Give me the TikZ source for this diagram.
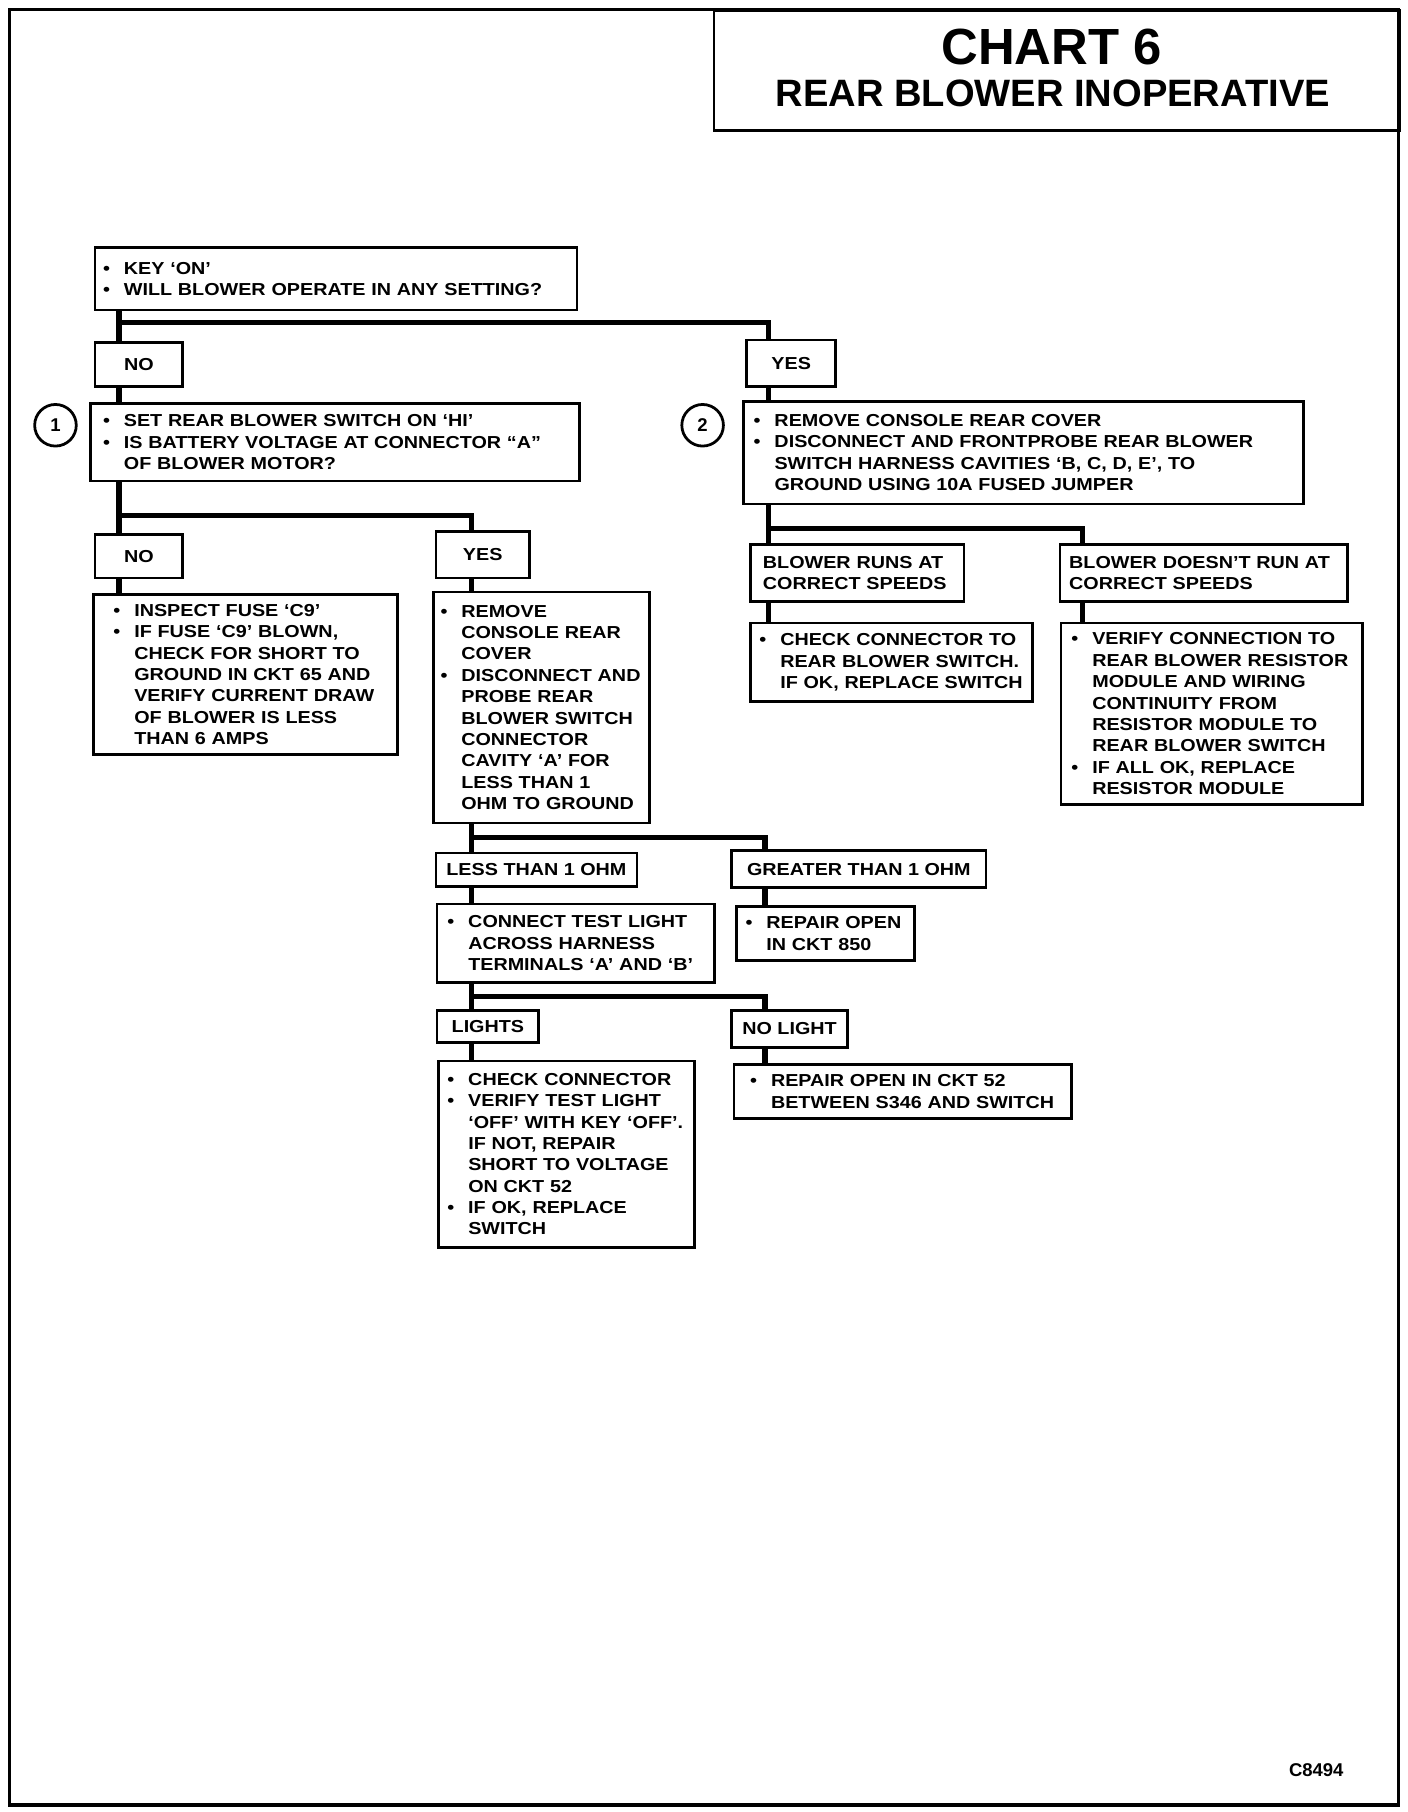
\documentclass[tikz,border=0pt]{standalone}
\usepackage{fontspec}
\newfontfamily\chartfont[FakeStretch=1.14]{Liberation Sans}
\newfontfamily\headfont{Liberation Sans}
\usetikzlibrary{positioning}

\newcommand{\bul}{\makebox[9pt][l]{\textbullet}}
\newcommand{\ind}{\hspace*{9pt}}

\begin{document}
\begin{tikzpicture}[
        x=0.5pt, y=-0.5pt,
        box/.style={draw, line width=1.2pt, anchor=north west, align=left, inner ysep=0pt,
                    font=\chartfont\bfseries\fontsize{7.5}{9.25}\selectfont},
        tag/.style={draw, line width=1.2pt, anchor=north west, align=center, inner sep=0pt,
                    font=\chartfont\bfseries\fontsize{7.5}{9.25}\selectfont},
        link/.style={line width=2.2pt},
        num/.style={draw, circle, line width=1.2pt, minimum size=18pt, inner sep=0pt,
                    font=\headfont\bfseries\fontsize{8}{8}\selectfont}
    ]
    \useasboundingbox (0,0) rectangle (1218,1568);

    % Frame and title
    \draw[line width=1.5pt] (8,8) rectangle (1210,1562);
    \node[draw, line width=1pt, anchor=north west, minimum width=296.5pt, minimum height=52pt, inner sep=0pt] (titlebox) at (617,8) {};
    \node[inner sep=0pt, font=\headfont\bfseries\fontsize{22}{24}\selectfont] (chart) at (910,41) {CHART 6};
    \node[inner sep=0pt, font=\headfont\bfseries\fontsize{16.5}{18}\selectfont] (subject) at (911,80.5) {REAR BLOWER INOPERATIVE};

    % Buses
    \coordinate (busA) at (103,0);
    \coordinate (busB) at (665,0);
    \coordinate (busC) at (408,0);
    \coordinate (busD) at (662,0);
    \coordinate (busE) at (937,0);

    % Nodes - start
    \node[box, inner xsep=3.5pt, text width=201.5pt, minimum height=27pt] (key) at (81,213)
        {\bul KEY ‘ON’\\ \bul WILL BLOWER OPERATE IN ANY SETTING?};
    \node[tag, minimum width=38pt, minimum height=19pt] (noA) at (81,295) {NO};
    \node[tag, minimum width=38.5pt, minimum height=20pt] (yesA) at (645,293) {YES};

    % Nodes - left branch
    \node[num] (stepA) at (48,368) {1};
    \node[box, inner xsep=5.5pt, text width=200.5pt, minimum height=33.5pt] (hiset) at (77,348)
        {\bul SET REAR BLOWER SWITCH ON ‘HI’\\ \bul IS BATTERY VOLTAGE AT CONNECTOR “A”\\ \ind OF BLOWER MOTOR?};
    \node[tag, minimum width=38pt, minimum height=19pt] (noB) at (81,461) {NO};
    \node[tag, minimum width=40.5pt, minimum height=20pt] (yesB) at (376,459) {YES};
    \node[box, inner xsep=8.5pt, text width=114.5pt, minimum height=69.5pt] (fuse) at (80,513)
        {\bul INSPECT FUSE ‘C9’\\ \bul IF FUSE ‘C9’ BLOWN,\\ \ind CHECK FOR SHORT TO\\ \ind GROUND IN CKT 65 AND\\
         \ind VERIFY CURRENT DRAW\\ \ind OF BLOWER IS LESS\\ \ind THAN 6 AMPS};
    \node[box, inner xsep=3pt, text width=87.5pt, minimum height=100pt] (probe) at (374,511)
        {\bul REMOVE\\ \ind CONSOLE REAR\\ \ind COVER\\ \bul DISCONNECT~AND\\ \ind PROBE REAR\\ \ind BLOWER SWITCH\\
         \ind CONNECTOR\\ \ind CAVITY ‘A’ FOR\\ \ind LESS THAN 1\\ \ind OHM TO GROUND};
    \node[tag, minimum width=87pt, minimum height=14.5pt] (less) at (376,737) {LESS THAN 1 OHM};
    \node[tag, minimum width=110pt, minimum height=16pt] (greater) at (632,735) {GREATER THAN 1 OHM};
    \node[box, inner xsep=4.5pt, text width=111pt, minimum height=34pt] (test) at (377,781)
        {\bul CONNECT TEST LIGHT\\ \ind ACROSS HARNESS\\ \ind TERMINALS ‘A’ AND ‘B’};
    \node[box, inner xsep=4pt, text width=69pt, minimum height=23.5pt] (openA) at (636,783)
        {\bul REPAIR~OPEN\\ \ind IN CKT 850};
    \node[tag, minimum width=44pt, minimum height=14pt] (lights) at (377,873) {LIGHTS};
    \node[tag, minimum width=50pt, minimum height=16pt] (nolight) at (632,873) {NO LIGHT};
    \node[box, inner xsep=4pt, text width=103pt, minimum height=80.5pt] (chkconn) at (378,917)
        {\bul CHECK CONNECTOR\\ \bul VERIFY TEST LIGHT\\ \ind ‘OFF’ WITH KEY ‘OFF’.\\ \ind IF NOT, REPAIR\\
         \ind SHORT TO VOLTAGE\\ \ind ON CKT 52\\ \bul IF OK, REPLACE\\ \ind SWITCH};
    \node[box, inner xsep=7pt, text width=132pt, minimum height=23.5pt] (openB) at (634,920)
        {\bul REPAIR OPEN IN CKT 52\\ \ind BETWEEN S346 AND SWITCH};

    % Nodes - right branch
    \node[num] (stepB) at (608,368) {2};
    \node[box, inner xsep=4.5pt, text width=233.5pt, minimum height=44.5pt] (cover) at (642,346)
        {\bul REMOVE CONSOLE REAR COVER\\ \bul DISCONNECT AND FRONTPROBE REAR BLOWER\\
         \ind SWITCH HARNESS CAVITIES ‘B, C, D, E’, TO\\ \ind GROUND USING 10A FUSED JUMPER};
    \node[box, inner xsep=5.5pt, text width=81.5pt, minimum height=24.5pt] (runs) at (648,470)
        {BLOWER RUNS AT\\ CORRECT SPEEDS};
    \node[box, inner xsep=4pt, text width=116.5pt, minimum height=24.5pt] (doesnt) at (916,470)
        {BLOWER DOESN’T RUN AT\\ CORRECT SPEEDS};
    \node[box, inner xsep=4pt, text width=114pt, minimum height=34pt] (chksw) at (648,538)
        {\bul CHECK CONNECTOR TO\\ \ind REAR BLOWER SWITCH.\\ \ind IF OK, REPLACE SWITCH};
    \node[box, inner xsep=4.5pt, text width=121.5pt, minimum height=78.5pt] (verify) at (917,538)
        {\bul VERIFY CONNECTION TO\\ \ind REAR BLOWER RESISTOR\\ \ind MODULE AND WIRING\\ \ind CONTINUITY FROM\\
         \ind RESISTOR MODULE TO\\ \ind REAR BLOWER SWITCH\\ \bul IF ALL OK, REPLACE\\ \ind RESISTOR MODULE};

    \node[anchor=east, inner sep=0pt, font=\headfont\bfseries\fontsize{8}{8}\selectfont] (figno) at (1163,1532) {C8494};

    % Links - start
    \draw[link] (key.south -| busA) -- (noA.north -| busA);
    \draw[link] (key.south -| busA) ++(0,10) -| (yesA.north -| busB);
    \draw[link] (noA.south -| busA) -- (hiset.north -| busA);
    \draw[link] (yesA.south -| busB) -- (cover.north -| busB);

    % Links - left branch
    \draw[link] (hiset.south -| busA) -- (noB.north -| busA);
    \draw[link] (hiset.south -| busA) ++(0,29) -| (yesB.north -| busC);
    \draw[link] (noB.south -| busA) -- (fuse.north -| busA);
    \draw[link] (yesB.south -| busC) -- (probe.north -| busC);
    \draw[link] (probe.south -| busC) -- (less.north -| busC);
    \draw[link] (probe.south -| busC) ++(0,11) -| (greater.north -| busD);
    \draw[link] (less.south -| busC) -- (test.north -| busC);
    \draw[link] (greater.south -| busD) -- (openA.north -| busD);
    \draw[link] (test.south -| busC) -- (lights.north -| busC);
    \draw[link] (test.south -| busC) ++(0,11) -| (nolight.north -| busD);
    \draw[link] (lights.south -| busC) -- (chkconn.north -| busC);
    \draw[link] (nolight.south -| busD) -- (openB.north -| busD);

    % Links - right branch
    \draw[link] (cover.south -| busB) -- (runs.north -| busB);
    \draw[link] (cover.south -| busB) ++(0,20) -| (doesnt.north -| busE);
    \draw[link] (runs.south -| busB) -- (chksw.north -| busB);
    \draw[link] (doesnt.south -| busE) -- (verify.north -| busE);

\end{tikzpicture}
\end{document}
